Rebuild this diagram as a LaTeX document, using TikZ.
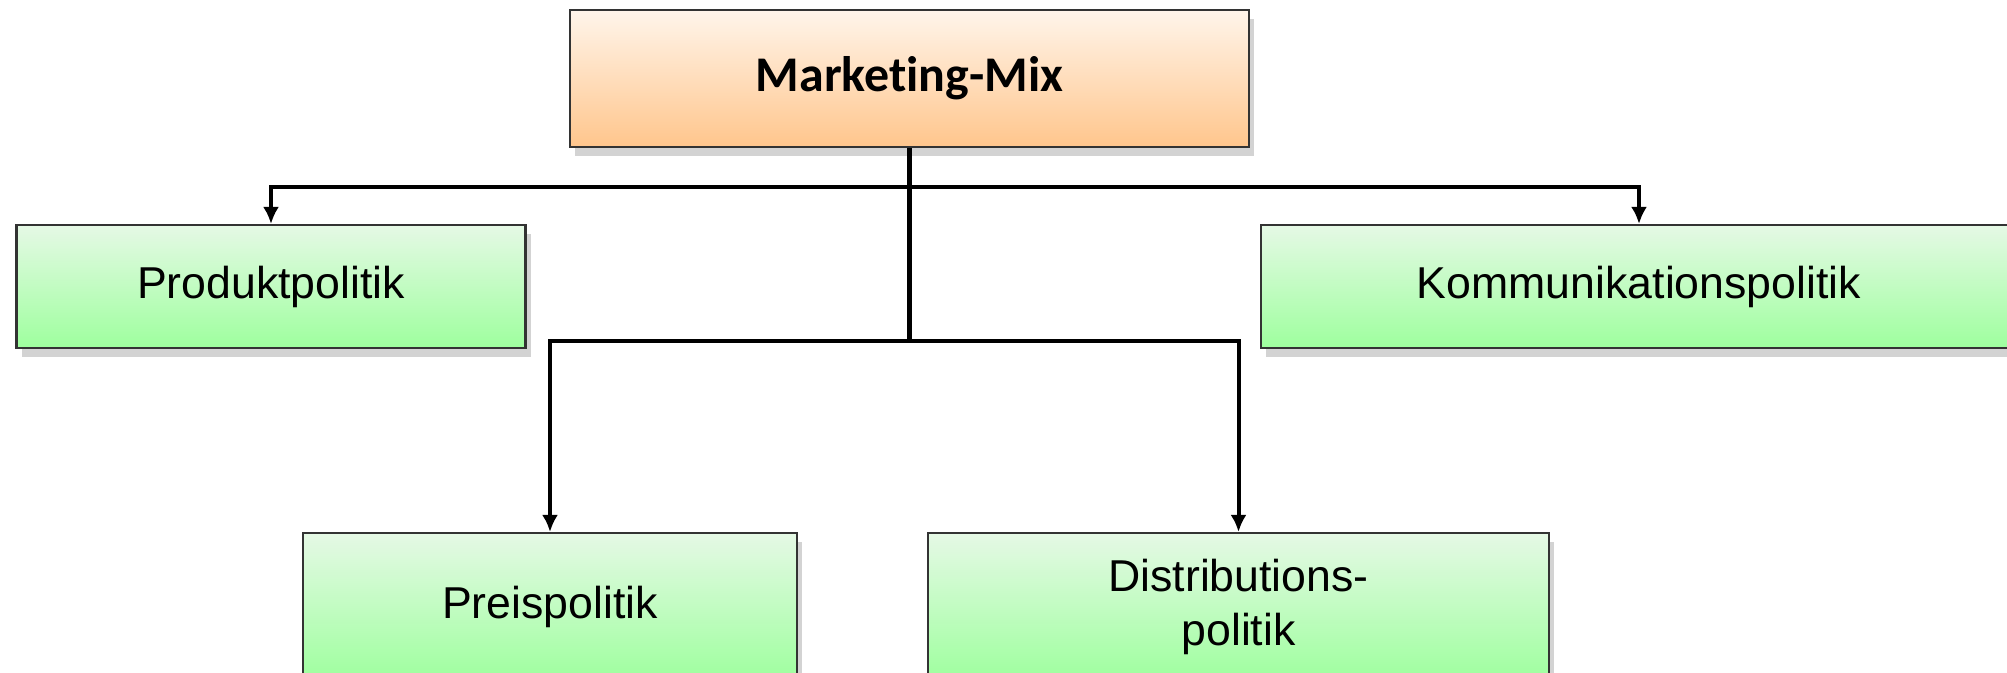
\documentclass[tikz,border=0pt]{standalone}
\usepackage{fontspec}
\setmainfont{Liberation Sans}
\newfontfamily\calibrifont[Ligatures=NoCommon]{Carlito}
\usetikzlibrary{arrows.meta,shadows}

\begin{document}
\begin{tikzpicture}[>={Latex[length=1.7mm,width=1.6mm]},
  box/.style={draw=black!80,line width=0.6pt,minimum height=1.23cm,
    top color=green!8!white!95!gray,bottom color=green!38!white,
    drop shadow={shadow xshift=0.5mm,shadow yshift=-0.9mm,opacity=0.35},
    font=\fontsize{12.7}{15.6}\selectfont,align=center},
  topbox/.style={box,minimum width=6.79cm,minimum height=1.37cm,
    top color=orange!8!white,bottom color=orange!45!white,
    font=\fontsize{14.2}{17}\selectfont\calibrifont\bfseries},
  lowbox/.style={box,minimum height=1.48cm},
  link/.style={line width=1.15pt}]
  % Page size
  \useasboundingbox (0,0) rectangle (20.07,-6.73);
  %
  % Boxes
  \node[topbox] (mix) at (9.095,-0.785) {Marketing-Mix};
  \node[box,minimum width=5.09cm] (prod) at (2.71,-2.865) {Produktpolitik};
  \node[box,minimum width=7.56cm] (komm) at (16.39,-2.865) {Kommunikationspolitik};
  \node[lowbox,minimum width=4.94cm] (preis) at (5.50,-6.07) {Preispolitik};
  \node[lowbox,minimum width=6.21cm] (distr) at (12.385,-6.07) {Distributions-\\politik};
  %
  % Branch points
  \coordinate (bus1) at (9.095,-1.87);
  \coordinate (bus2) at (9.095,-3.41);
  %
  % Connectors
  \draw[link] (mix.south) -- (bus1) -- (bus2);
  \draw[link,->] (bus1) -| (prod.north);
  \draw[link,->] (bus1) -| (komm.north);
  \draw[link,->] (bus2) -| (preis.north);
  \draw[link,->] (bus2) -| (distr.north);
  %
\end{tikzpicture}
\end{document}
